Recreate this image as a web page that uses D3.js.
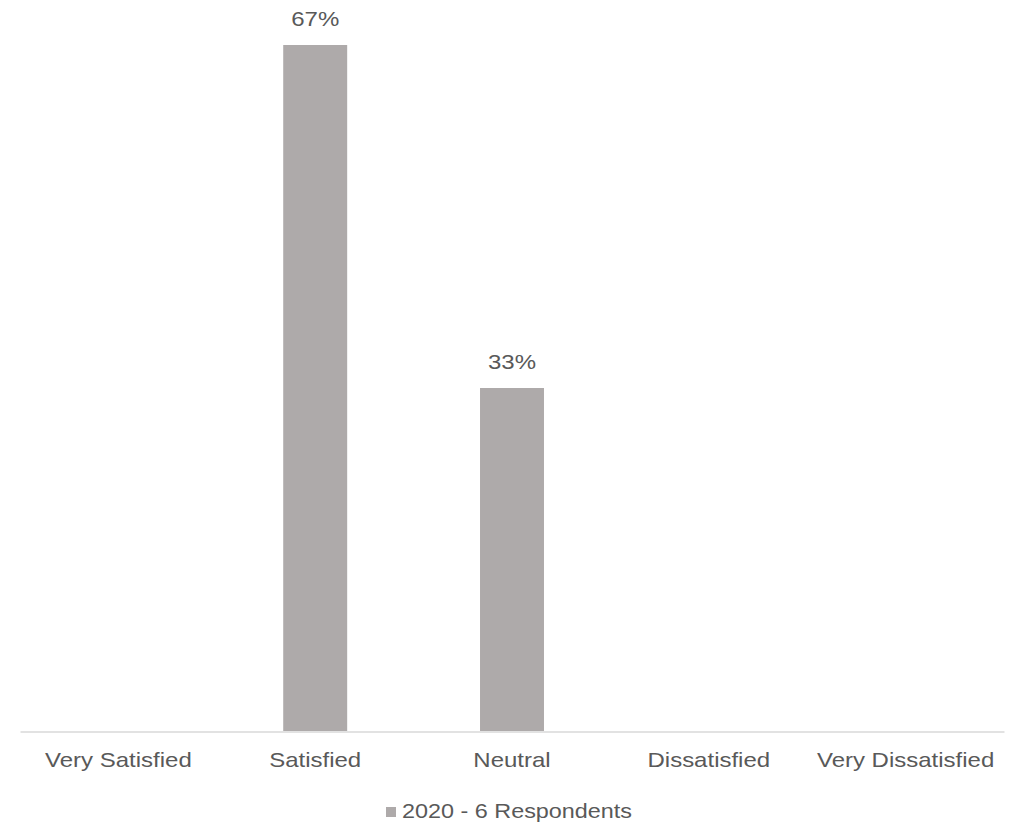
<!DOCTYPE html>
<html>
<head>
<meta charset="utf-8">
<script src="https://cdn.jsdelivr.net/npm/d3@7"></script>
<style>
  html, body { margin: 0; padding: 0; background: #ffffff; }
  svg { display: block; }
  text { font-family: "Liberation Sans", Arial, Helvetica, sans-serif; fill: #595959; }
</style>
</head>
<body>
<script>
const categories = ["Very Satisfied", "Satisfied", "Neutral", "Dissatisfied", "Very Dissatisfied"];
const values = [0, 4 / 6, 2 / 6, 0, 0];
const seriesName = "2020 - 6 Respondents";

const W = 1021, H = 825;
const margin = { left: 20, right: 17, top: 45, bottom: 94 };
const barColor = "#aeaaaa";
const sx = 1.2; // horizontal text stretch as in reference

const svg = d3.select("body").append("svg").attr("width", W).attr("height", H);

const x = d3.scaleBand()
  .domain(categories)
  .range([margin.left, W - margin.right])
  .paddingInner(0.675)
  .paddingOuter(0.3375);

const y = d3.scaleLinear()
  .domain([0, d3.max(values)])
  .range([H - margin.bottom, margin.top]);

const data = categories.map((c, i) => ({ c, v: values[i] }));

// bars
svg.append("g").selectAll("rect").data(data).join("rect")
  .attr("x", d => x(d.c))
  .attr("width", x.bandwidth())
  .attr("y", d => y(d.v))
  .attr("height", d => y(0) - y(d.v))
  .attr("fill", barColor);

// axis
const axis = d3.axisBottom(x).tickSize(0).tickPadding(0);
const gx = svg.append("g").attr("transform", `translate(0,${y(0) + 0.5})`).call(axis);
gx.select(".domain").attr("stroke", "#d9d9d9").attr("stroke-width", 1.5);
gx.selectAll(".tick text").each(function () {
  const t = d3.select(this);
  t.attr("y", null).attr("dy", null)
   .attr("transform", `translate(0,35) scale(${sx},1)`)
   .style("font-size", "20px")
   .attr("fill", "#595959");
});

// data labels
const fmt = d3.format(".0%");
svg.append("g").selectAll("text").data(data.filter(d => d.v > 0)).join("text")
  .attr("text-anchor", "middle")
  .attr("transform", d => `translate(${x(d.c) + x.bandwidth() / 2},${y(d.v) - 19}) scale(${sx},1)`)
  .style("font-size", "20px")
  .text(d => fmt(d.v));

// legend
const lg = svg.append("g");
lg.append("rect").attr("x", 386).attr("y", 807).attr("width", 10).attr("height", 10).attr("fill", barColor);
lg.append("text")
  .attr("transform", `translate(402,818) scale(${sx},1)`)
  .style("font-size", "19.5px")
  .text(seriesName);
</script>
</body>
</html>
